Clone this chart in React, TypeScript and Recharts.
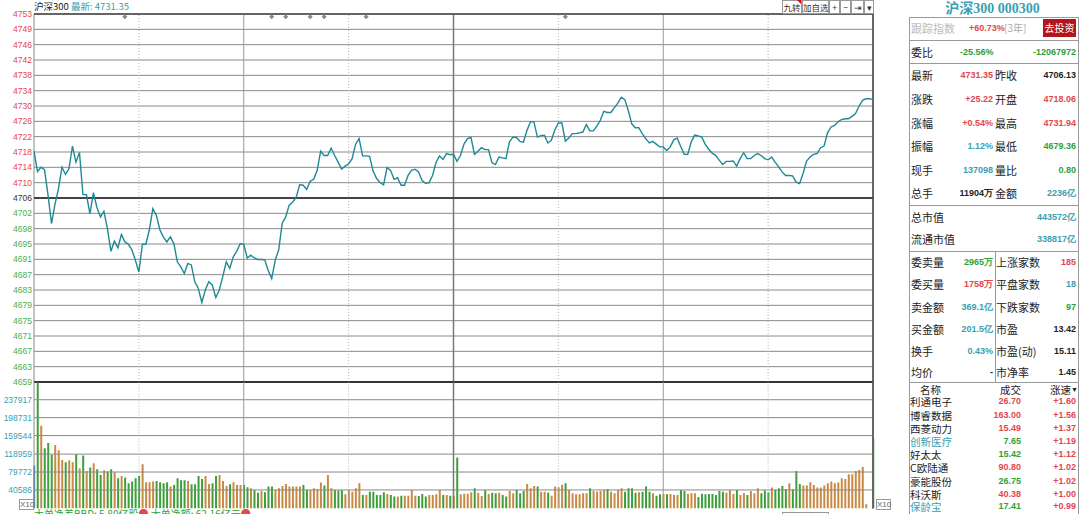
import { ComposedChart, Line, Bar, Cell, Scatter, XAxis, YAxis, ReferenceLine } from 'recharts';

// 昨收 and the two halves of the trading day (1-minute points, 9:30-11:30 / 13:01-15:00)
const prevClose = 4706.13;

const priceAm = [
  4718.1, 4712.9, 4714.0, 4713.4, 4707.0, 4699.6, 4704.5, 4708.5, 4714.0, 4712.2,
  4713.6, 4719.4, 4715.3, 4717.8, 4707.0, 4707.0, 4702.1, 4707.5, 4703.7, 4701.3,
  4702.7, 4698.3, 4692.5, 4695.1, 4693.4, 4696.8, 4694.9, 4694.3, 4692.9, 4690.2,
  4687.2, 4694.3, 4694.3, 4698.0, 4703.4, 4701.7, 4698.0, 4696.2, 4694.9, 4696.2,
  4694.5, 4689.8, 4688.5, 4686.8, 4689.4, 4689.0, 4684.7, 4683.0, 4679.4, 4682.6,
  4684.7, 4683.9, 4680.7, 4682.6, 4686.0, 4689.8, 4688.1, 4691.1, 4692.5, 4694.5,
  4694.3, 4690.8, 4691.5, 4690.8, 4690.4, 4690.4, 4690.3, 4687.6, 4685.5, 4690.2,
  4692.9, 4699.7, 4701.3, 4704.3, 4705.1, 4706.3, 4709.5, 4709.4, 4708.3, 4710.4,
  4710.9, 4713.2, 4718.1, 4717.0, 4717.0, 4718.9, 4717.0, 4715.3, 4713.5, 4714.3,
  4714.9, 4716.2, 4719.9, 4721.3, 4716.9, 4716.9, 4716.8, 4713.0, 4711.1, 4710.1,
  4709.5, 4713.9, 4713.2, 4710.9, 4711.3, 4709.4, 4709.4, 4711.9, 4713.2, 4713.5,
  4712.8, 4710.6, 4709.9, 4710.0, 4711.9, 4715.2, 4716.9, 4716.0, 4717.5, 4717.2,
  4717.3,
];

const pricePm = [
  4715.5, 4717.0, 4719.9, 4721.3, 4721.6, 4717.3, 4718.1, 4719.0, 4718.5, 4718.5,
  4715.2, 4714.7, 4716.6, 4716.4, 4716.2, 4720.5, 4721.7, 4721.6, 4720.6, 4720.4,
  4723.4, 4725.6, 4725.6, 4721.7, 4722.1, 4722.2, 4720.2, 4720.9, 4723.6, 4725.3,
  4725.3, 4720.7, 4721.5, 4722.6, 4722.6, 4722.8, 4723.0, 4724.9, 4723.3, 4723.3,
  4724.5, 4726.0, 4728.3, 4728.0, 4728.0, 4729.2, 4730.4, 4731.9, 4731.3, 4728.5,
  4725.1, 4724.1, 4724.1, 4722.6, 4721.3, 4720.2, 4720.6, 4719.9, 4719.2, 4719.2,
  4718.3, 4719.2, 4721.0, 4721.5, 4719.3, 4717.3, 4717.3, 4720.5, 4722.2, 4722.0,
  4721.7, 4719.9, 4718.6, 4717.6, 4717.0, 4715.8, 4714.7, 4715.5, 4715.5, 4715.6,
  4714.3, 4716.2, 4717.7, 4716.2, 4716.2, 4717.0, 4717.5, 4717.0, 4716.2, 4715.9,
  4716.6, 4715.3, 4714.1, 4712.8, 4711.9, 4711.9, 4711.8, 4710.2, 4709.8, 4712.4,
  4715.6, 4716.6, 4717.3, 4717.5, 4719.0, 4719.4, 4722.8, 4724.3, 4724.7, 4725.6,
  4726.2, 4726.4, 4726.4, 4727.0, 4727.7, 4729.6, 4731.1, 4731.5, 4731.5, 4731.35,
];

const volumeAm = [
  93800, 276000, 181000, 132000, 143000, 117000, 139000, 127500, 106000, 101000,
  105600, 101000, 118700, 88000, 115800, 82200, 89500, 99000, 85900, 73500,
  83700, 80700, 85900, 79300, 66200, 71300, 67600, 55200, 58800, 66200,
  71300, 96900, 57400, 57400, 58800, 60300, 57400, 55200, 57400, 47900,
  51500, 66200, 61800, 61800, 60300, 53000, 53000, 71300, 64700, 71300,
  53700, 55200, 71300, 73500, 60300, 49300, 53000, 57400, 51500, 51500,
  51500, 46400, 44200, 40600, 34700, 38400, 35500, 47900, 47900, 40600,
  44200, 49300, 53700, 47900, 47900, 47900, 47900, 51500, 40600, 40600,
  44200, 42800, 56700, 50100, 73500, 44200, 40600, 39100, 40600, 31100,
  40600, 36900, 44200, 55200, 29600, 29600, 36900, 36900, 29600, 29600,
  35500, 31800, 29600, 26000, 26000, 28100, 28100, 28100, 40600, 28100,
  27400, 31800, 26000, 29600, 29600, 31100, 40600, 29600, 29600, 28100,
  28100,
];

const volumePm = [
  111500, 31100, 32500, 32500, 35500, 44200, 34700, 27400, 40600, 31800,
  34700, 33300, 34700, 29600, 26000, 38400, 33300, 40600, 33300, 38400,
  53700, 44200, 49300, 47900, 36900, 36900, 34700, 28100, 47900, 46400,
  51500, 55200, 40600, 33300, 31100, 31100, 33300, 33300, 44200, 38400,
  36900, 38400, 40600, 42800, 36900, 33300, 40600, 44200, 36900, 44200,
  44200, 34700, 35500, 36900, 47900, 36900, 33300, 28100, 31100, 31800,
  31100, 31800, 29600, 29600, 40600, 38400, 31800, 33300, 33300, 25200,
  32500, 31100, 31800, 31800, 29600, 38400, 36900, 34700, 40600, 31800,
  40600, 29600, 33300, 29600, 38400, 33300, 44200, 33300, 39100, 35500,
  45700, 40600, 44200, 49300, 42800, 55200, 42100, 82200, 53700, 50100,
  50100, 57400, 51500, 45700, 45700, 50100, 55200, 58800, 55200, 56700,
  66200, 64700, 74900, 74900, 82200, 84400, 91000, 9100, 0, 153800,
];

// minute index of the little grey diamonds at the top
const eventMinutes = [26, 68, 72, 79, 83, 95, 152];

const priceTickLabels = [
  '4753', '4749', '4746', '4742', '4738', '4734', '4730', '4726', '4722', '4718', '4714', '4710',
  '4706', '4702', '4698', '4695', '4691', '4687', '4683', '4679', '4675', '4671', '4667', '4663', '4659',
];
const pctTickLabels = [
  '1.00%', '0.92%', '0.84%', '0.75%', '0.67%', '0.59%', '0.50%', '0.42%', '0.34%', '0.25%', '0.17%', '0.09%',
  '0.00%', '0.08%', '0.16%', '0.25%', '0.33%', '0.41%', '0.50%', '0.58%', '0.66%', '0.75%', '0.83%', '0.91%', '1.00%',
];
const volumeTicks = [40586, 79772, 118959, 159544, 198731, 237917];
const volumeMax = 276700;

const solidMinutes = [60, 120, 180];
const dottedMinutes = [30, 90, 150, 210];

const RED = '#e4464e';
const GREEN = '#2f9f35';
const TEAL = '#3a9fb3';
const LINE = '#1f8996';
const UP_BAR = '#c98a45';
const DOWN_BAR = '#3ba03a';
const GRID = '#8a8a8a';

const priceTop = prevClose * 1.01;
const priceBottom = prevClose * 0.99;
const priceStep = (priceTop - prevClose) / 12;
const priceTicks = priceTickLabels.map((_, k) => priceTop - k * priceStep);

const prices = [...priceAm, ...pricePm];
const volumes = [...volumeAm, ...volumePm];

const priceData = prices.map((p, t) => ({ t, p }));
const volumeData = volumes.map((vol, t) => ({
  t,
  vol,
  color: t === 0 ? '#4f97c9' : prices[t] >= prices[t - 1] ? UP_BAR : DOWN_BAR,
}));
const eventData = eventMinutes.map((t) => ({ t, m: priceTop - 0.7 }));

// each grid level as a two-point series spanning the session
const levelData = (v: number) => [{ t: 0, g: v }, { t: 240, g: v }];

const axisFont = '"Liberation Sans", Arial, sans-serif';

const tickIndex = (v: number) => Math.round((priceTop - v) / priceStep);
const tickColor = (k: number) => (k < 12 ? RED : k === 12 ? '#333' : '#49b04a');

const LeftPriceTick = (props: any) => {
  const k = tickIndex(props.payload.value);
  return (
    <text x={32} y={props.y} dy={3} textAnchor="end" fontSize={8.5} fontFamily={axisFont} fill={tickColor(k)}>
      {priceTickLabels[k]}
    </text>
  );
};

const RightPctTick = (props: any) => {
  const k = tickIndex(props.payload.value);
  return (
    <text x={875} y={props.y} dy={3} textAnchor="start" fontSize={8.5} fontFamily={axisFont} fill={tickColor(k)}>
      {pctTickLabels[k]}
    </text>
  );
};

const LeftVolTick = (props: any) => (
  <text x={32} y={props.y} dy={3} textAnchor="end" fontSize={8.5} fontFamily={axisFont} fill={TEAL}>
    {props.payload.value}
  </text>
);

const RightVolTick = (props: any) => (
  <text x={875} y={props.y} dy={3} textAnchor="start" fontSize={8.5} fontFamily={axisFont} fill={TEAL}>
    {props.payload.value}
  </text>
);

const Diamond = (props: any) => (
  <path d={`M${props.cx},${props.cy - 2.5}L${props.cx + 2.5},${props.cy}L${props.cx},${props.cy + 2.5}L${props.cx - 2.5},${props.cy}Z`} fill="#888" />
);

const PRICE_MARGIN = { top: 14, right: 0, left: 0, bottom: 8 };
const VOL_MARGIN = { top: 10, right: 0, left: 0, bottom: 5.5 };

function PriceChart() {
  return (
    <ComposedChart width={905} height={390} data={priceData} margin={PRICE_MARGIN}>
      <XAxis dataKey="t" type="number" domain={[0, 240]} hide />
      <YAxis yAxisId="p" width={34} domain={[priceBottom, priceTop]} ticks={priceTicks} interval={0}
        tick={LeftPriceTick} axisLine={false} tickLine={false} />
      <YAxis yAxisId="r" orientation="right" width={32} domain={[priceBottom, priceTop]} ticks={priceTicks}
        interval={0} tick={RightPctTick} axisLine={false} tickLine={false} />
      {priceTicks.map((v, k) => (
        <Line key={'g' + k} yAxisId="p" data={levelData(v)} dataKey="g" stroke={GRID} strokeWidth={1}
          dot={false} activeDot={false} isAnimationActive={false} />
      ))}
      {dottedMinutes.map((t) => (
        <ReferenceLine key={'d' + t} yAxisId="p" x={t} stroke="#b5b5b5" strokeDasharray="1 2" />
      ))}
      {solidMinutes.map((t) => (
        <ReferenceLine key={'s' + t} yAxisId="p" x={t} stroke={t === 120 ? '#777' : '#999'} strokeWidth={t === 120 ? 1.5 : 1} />
      ))}
      <ReferenceLine yAxisId="p" x={0} stroke="#888" />
      <ReferenceLine yAxisId="p" x={240} stroke="#666" strokeWidth={2} />
      <ReferenceLine yAxisId="p" y={priceTop} stroke="#444" strokeWidth={1.5} />
      <ReferenceLine yAxisId="p" y={prevClose} stroke="#444" strokeWidth={2} />
      <ReferenceLine yAxisId="p" y={priceBottom} stroke="#333" strokeWidth={2} />
      <Line yAxisId="p" dataKey="p" stroke={LINE} strokeWidth={1.4} dot={false} isAnimationActive={false} />
      <Scatter yAxisId="p" data={eventData} dataKey="m" shape={Diamond} isAnimationActive={false} />
    </ComposedChart>
  );
}

function VolumeChart() {
  return (
    <ComposedChart width={905} height={142} data={volumeData} margin={VOL_MARGIN}>
      <XAxis dataKey="t" type="number" domain={[0, 240]} hide />
      <YAxis yAxisId="v" width={34} domain={[0, volumeMax]} allowDataOverflow ticks={volumeTicks} interval={0}
        tick={LeftVolTick} axisLine={false} tickLine={false} />
      <YAxis yAxisId="vr" orientation="right" width={32} domain={[0, volumeMax]} ticks={volumeTicks} interval={0}
        tick={RightVolTick} axisLine={false} tickLine={false} />
      {volumeTicks.map((v) => (
        <Line key={'g' + v} yAxisId="v" data={levelData(v)} dataKey="g" stroke={GRID} strokeWidth={1}
          dot={false} activeDot={false} isAnimationActive={false} />
      ))}
      {dottedMinutes.map((t) => (
        <ReferenceLine key={'d' + t} yAxisId="v" x={t} stroke="#b5b5b5" strokeDasharray="1 2" />
      ))}
      {solidMinutes.map((t) => (
        <ReferenceLine key={'s' + t} yAxisId="v" x={t} stroke={t === 120 ? '#777' : '#999'} strokeWidth={t === 120 ? 1.5 : 1} />
      ))}
      <ReferenceLine yAxisId="v" x={0} stroke="#888" />
      <ReferenceLine yAxisId="v" x={240} stroke="#666" strokeWidth={2} />
      <Bar yAxisId="v" dataKey="vol" barSize={2} isAnimationActive={false}>
        {volumeData.map((d) => (
          <Cell key={d.t} fill={d.color} />
        ))}
      </Bar>
    </ComposedChart>
  );
}

// --- quote panel on the right ---
const quoteRows = [
  ['最新', '4731.35', RED, '昨收', '4706.13', '#222'],
  ['涨跌', '+25.22', RED, '开盘', '4718.06', RED],
  ['涨幅', '+0.54%', RED, '最高', '4731.94', RED],
  ['振幅', '1.12%', TEAL, '最低', '4679.36', GREEN],
  ['现手', '137098', TEAL, '量比', '0.80', GREEN],
  ['总手', '11904万', '#222', '金额', '2236亿', TEAL],
];
const quoteRowY = [75, 99, 122.5, 146, 169.5, 193];

const bookRows = [
  ['委卖量', '2965万', GREEN, '上涨家数', '185', RED],
  ['委买量', '1758万', RED, '平盘家数', '18', TEAL],
  ['卖金额', '369.1亿', TEAL, '下跌家数', '97', GREEN],
  ['买金额', '201.5亿', TEAL, '市盈', '13.42', '#222'],
  ['换手', '0.43%', TEAL, '市盈(动)', '15.11', '#222'],
  ['均价', '-', '#222', '市净率', '1.45', '#222'],
];
const bookRowY = [262, 284.3, 306.5, 328.5, 350.5, 372];

const stockRows = [
  ['利通电子', '#222', '26.70', RED, '+1.60'],
  ['博睿数据', '#222', '163.00', RED, '+1.56'],
  ['西菱动力', '#222', '15.49', RED, '+1.37'],
  ['创新医疗', TEAL, '7.65', GREEN, '+1.19'],
  ['好太太', '#222', '15.42', GREEN, '+1.12'],
  ['C欧陆通', '#222', '90.80', RED, '+1.02'],
  ['豪能股份', '#222', '26.75', GREEN, '+1.02'],
  ['科沃斯', '#222', '40.38', RED, '+1.00'],
  ['保龄宝', TEAL, '17.41', GREEN, '+0.99'],
];
const stockRowY = [401.7, 415, 428.3, 441.3, 454.5, 467.7, 481, 494, 506.5];

const cjk = '"Noto Sans CJK SC", sans-serif';
const num = '"Liberation Sans", Arial, sans-serif';

function T(props: { x: number; y: number; text: string; color?: string; size?: number; end?: boolean; bold?: boolean; font?: string; h?: number }) {
  const size = props.size ?? 11;
  const h = props.h ?? 16;
  const style: any = {
    position: 'absolute',
    top: props.y - h / 2,
    height: h,
    lineHeight: h + 'px',
    fontSize: size,
    color: props.color ?? '#222',
    fontWeight: props.bold ? 700 : 400,
    fontFamily: props.font ?? cjk,
    whiteSpace: 'nowrap',
  };
  if (props.end) style.right = 1080 - props.x;
  else style.left = props.x;
  return <div style={style}>{props.text}</div>;
}

const HLine = ({ y, x1 = 909, x2 = 1078 }: { y: number; x1?: number; x2?: number }) => (
  <div style={{ position: 'absolute', left: x1, top: y, width: x2 - x1, height: 1, background: '#9a9a9a' }} />
);
const VLine = ({ x, y1, y2 }: { x: number; y1: number; y2: number }) => (
  <div style={{ position: 'absolute', left: x, top: y1, width: 1, height: y2 - y1, background: '#9a9a9a' }} />
);

function QuotePanel() {
  return (
    <>
      <div style={{ position: 'absolute', left: 905, top: 0, width: 175, textAlign: 'center', fontSize: 14, lineHeight: '17px',
        fontWeight: 700, color: '#3a9fb3', fontFamily: '"Liberation Serif", "Noto Sans CJK SC", serif' }}>
        沪深300 000300
      </div>
      <HLine y={17} />
      <VLine x={909} y1={17} y2={514} />
      <VLine x={1078} y1={17} y2={514} />
      <T x={911} y={28} text="跟踪指数" color="#bbb" />
      <T x={969} y={28} text="+60.73%" color={RED} bold size={9} font={num} />
      <T x={1004} y={28} text="[3年]" color="#aaa" size={10} />
      <div style={{ position: 'absolute', left: 1043, top: 19, width: 33, height: 18, background: '#b5141a', color: '#fff',
        fontSize: 10, lineHeight: '18px', textAlign: 'center', fontFamily: cjk }}>去投资</div>
      <HLine y={40} />
      <T x={911} y={52} text="委比" />
      <T x={960} y={52} text="-25.56%" color={GREEN} bold size={9} font={num} />
      <T x={1076} y={52} text="-12067972" color={GREEN} bold size={9} font={num} end />
      <HLine y={63} />
      {quoteRows.map((r, i) => (
        <div key={i}>
          <T x={911} y={quoteRowY[i]} text={r[0]} />
          <T x={993} y={quoteRowY[i]} text={r[1]} color={r[2]} bold size={9} font={num} end />
          <T x={995} y={quoteRowY[i]} text={r[3]} />
          <T x={1076} y={quoteRowY[i]} text={r[4]} color={r[5]} bold size={9} font={num} end />
        </div>
      ))}
      <HLine y={205} />
      <T x={911} y={216.7} text="总市值" />
      <T x={1076} y={216.7} text="443572亿" color={TEAL} bold size={9} font={num} end />
      <T x={911} y={239.3} text="流通市值" />
      <T x={1076} y={239.3} text="338817亿" color={TEAL} bold size={9} font={num} end />
      <HLine y={251} />
      <VLine x={995} y1={251} y2={382} />
      {bookRows.map((r, i) => (
        <div key={i}>
          <T x={911} y={bookRowY[i]} text={r[0]} />
          <T x={993} y={bookRowY[i]} text={r[1]} color={r[2]} bold size={9} font={num} end />
          <T x={996} y={bookRowY[i]} text={r[3]} />
          <T x={1076} y={bookRowY[i]} text={r[4]} color={r[5]} bold size={9} font={num} end />
        </div>
      ))}
      <HLine y={382} />
      <T x={920} y={389} text="名称" size={10.5} h={11} />
      <T x={1000} y={389} text="成交" size={10.5} h={11} />
      <T x={1050} y={389} text="涨速" size={10.5} h={11} />
      <T x={1071} y={389} text="▼" size={7} h={9} font={num} />
      {stockRows.map((r, i) => (
        <div key={i}>
          <T x={910} y={stockRowY[i]} text={r[0]} color={r[1]} size={10.5} h={13} />
          <T x={1021} y={stockRowY[i]} text={r[2]} color={r[3]} bold size={9} font={num} end h={13} />
          <T x={1076} y={stockRowY[i]} text={r[4]} color={RED} bold size={9} font={num} end h={13} />
        </div>
      ))}
    </>
  );
}

function TopBar() {
  const btn = (left: number, width: number, label: string) => (
    <div style={{ position: 'absolute', left, top: 0, width, height: 12, border: '1px solid #999', fontSize: 8.5,
      lineHeight: '12px', textAlign: 'center', color: '#333', fontFamily: cjk, background: '#fff', whiteSpace: 'nowrap',
      overflow: 'hidden' }}>{label}</div>
  );
  return (
    <>
      <div style={{ position: 'absolute', left: 34, top: 0, fontSize: 9.5, lineHeight: '13px', fontFamily: cjk, whiteSpace: 'nowrap' }}>
        <span style={{ color: '#222' }}>沪深300 </span>
        <span style={{ color: TEAL }}>最新: 4731.35</span>
      </div>
      {btn(782, 18, '九转')}
      <div style={{ position: 'absolute', left: 797, top: 0, width: 0, height: 0, borderLeft: '4px solid transparent', borderTop: '4px solid #e00' }} />
      {btn(802, 25, '加自选')}
      {btn(829, 9, '+')}
      {btn(840, 9, '−')}
      {btn(851, 11, '⇥')}
      {btn(864, 8, '▾')}
    </>
  );
}

function Footer() {
  const box = (left: number, top: number) => (
    <div style={{ position: 'absolute', left, top, width: 13, height: 9, border: '1px solid #999', fontSize: 8,
      lineHeight: '9px', color: '#666', fontFamily: num, textAlign: 'center', background: '#fff' }}>X10</div>
  );
  return (
    <>
      {box(19, 499)}
      {box(876, 499)}
      <div style={{ position: 'absolute', left: 34, top: 508, width: 300, height: 6, overflow: 'hidden' }}>
        <div style={{ fontSize: 10, lineHeight: '12px', fontFamily: cjk, whiteSpace: 'nowrap', color: GREEN }}>
          大单净差BBD: 5.80亿股<span style={{ color: RED }}>●</span> 大单净额: 62.16亿元<span style={{ color: RED }}>●</span>
        </div>
      </div>
      <div style={{ position: 'absolute', left: 782, top: 507, width: 90, height: 7, overflow: 'hidden' }}>
        <span style={{ display: 'inline-block', border: '1px solid #999', fontSize: 8, lineHeight: '10px', color: '#444',
          fontFamily: cjk, whiteSpace: 'nowrap', marginRight: 16 }}>[领涨股板块]</span>
        <span style={{ fontSize: 8, lineHeight: '10px', color: '#444', fontFamily: cjk, whiteSpace: 'nowrap' }}>指数说明</span>
      </div>
    </>
  );
}

export default function App() {
  return (
    <div style={{ position: 'absolute', left: 0, top: 0, width: 1080, height: 514, background: '#fff' }}>
      <div style={{ position: 'absolute', left: 0, top: 0 }}>
        <PriceChart />
      </div>
      <div style={{ position: 'absolute', left: 0, top: 372 }}>
        <VolumeChart />
      </div>
      <TopBar />
      <Footer />
      <QuotePanel />
    </div>
  );
}
